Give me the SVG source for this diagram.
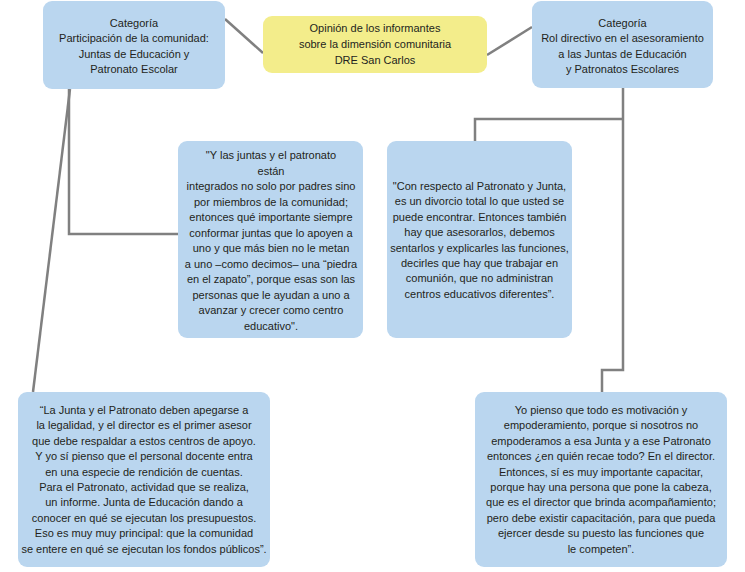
<svg xmlns="http://www.w3.org/2000/svg" width="745" height="572" viewBox="0 0 745 572">
<style>
.box{fill:#bad6ef}
.yel{fill:#f3ed8b}
.t{font-family:"Liberation Sans",Arial,sans-serif;font-size:11px;fill:#231f20;text-anchor:middle}
.c{fill:none;stroke:#808080;stroke-width:2.5}
</style>
<rect width="745" height="572" fill="#ffffff"/>
<g id="connectors">
<line class="c" x1="225" y1="19" x2="263" y2="53"/>
<line class="c" x1="487" y1="55" x2="532" y2="27"/>
<path class="c" d="M69,89 V234 H178"/>
<line class="c" x1="70" y1="89" x2="33" y2="392"/>
<path class="c" d="M623,88 V370 H602 V392"/>
<path class="c" d="M623,119 H475 V141"/>
</g>
<g id="cat1">
<rect class="box" x="43" y="1" width="182" height="88" rx="9"/>
<text class="t"><tspan x="134" y="27">Categoría</tspan><tspan x="134" y="42.3">Participación de la comunidad:</tspan><tspan x="134" y="57.6">Juntas de Educación y</tspan><tspan x="134" y="72.9">Patronato Escolar</tspan></text>
</g>
<g id="center">
<rect class="yel" x="263" y="16" width="224" height="57" rx="9"/>
<text class="t"><tspan x="375" y="32">Opinión de los informantes</tspan><tspan x="375" y="48">sobre la dimensión comunitaria</tspan><tspan x="375" y="64">DRE San Carlos</tspan></text>
</g>
<g id="cat2">
<rect class="box" x="532" y="1" width="181" height="87" rx="9"/>
<text class="t"><tspan x="622.5" y="27">Categoría</tspan><tspan x="622.5" y="42.3">Rol directivo en el asesoramiento</tspan><tspan x="622.5" y="57.6">a las Juntas de Educación</tspan><tspan x="622.5" y="72.9">y Patronatos Escolares</tspan></text>
</g>
<g id="quote1">
<rect class="box" x="178" y="141" width="185" height="197" rx="9"/>
<text class="t"><tspan x="271" y="159">"Y las juntas y el patronato</tspan><tspan x="271" y="174.5">están</tspan><tspan x="271" y="190">integrados no solo por padres sino</tspan><tspan x="271" y="205.5">por miembros de la comunidad;</tspan><tspan x="271" y="221">entonces qué importante siempre</tspan><tspan x="271" y="236.5">conformar juntas que lo apoyen a</tspan><tspan x="271" y="252">uno y que más bien no le metan</tspan><tspan x="271" y="267.5">a uno –como decimos– una “piedra</tspan><tspan x="271" y="283">en el zapato”, porque esas son las</tspan><tspan x="271" y="298.5">personas que le ayudan a uno a</tspan><tspan x="271" y="314">avanzar y crecer como centro</tspan><tspan x="271" y="329.5">educativo".</tspan></text>
</g>
<g id="quote2">
<rect class="box" x="387" y="141" width="185" height="197" rx="9"/>
<text class="t"><tspan x="479.5" y="190">"Con respecto al Patronato y Junta,</tspan><tspan x="479.5" y="205.4">es un divorcio total lo que usted se</tspan><tspan x="479.5" y="220.8">puede encontrar. Entonces también</tspan><tspan x="479.5" y="236.2">hay que asesorarlos, debemos</tspan><tspan x="479.5" y="251.6">sentarlos y explicarles las funciones,</tspan><tspan x="479.5" y="267">decirles que hay que trabajar en</tspan><tspan x="479.5" y="282.4">comunión, que no administran</tspan><tspan x="479.5" y="297.8">centros educativos diferentes”.</tspan></text>
</g>
<g id="quote3">
<rect class="box" x="18" y="392" width="252" height="175" rx="9"/>
<text class="t"><tspan x="144" y="414">“La Junta y el Patronato deben apegarse a</tspan><tspan x="144" y="429.4">la legalidad, y el director es el primer asesor</tspan><tspan x="144" y="444.8">que debe respaldar a estos centros de apoyo.</tspan><tspan x="144" y="460.2">Y yo sí pienso que el personal docente entra</tspan><tspan x="144" y="475.6">en una especie de rendición de cuentas.</tspan><tspan x="144" y="491">Para el Patronato, actividad que se realiza,</tspan><tspan x="144" y="506.4">un informe. Junta de Educación dando a</tspan><tspan x="144" y="521.8">conocer en qué se ejecutan los presupuestos.</tspan><tspan x="144" y="537.2">Eso es muy muy principal: que la comunidad</tspan><tspan x="144" y="552.6">se entere en qué se ejecutan los fondos públicos”.</tspan></text>
</g>
<g id="quote4">
<rect class="box" x="475" y="392" width="252" height="175" rx="9"/>
<text class="t"><tspan x="601" y="414">Yo pienso que todo es motivación y</tspan><tspan x="601" y="429.4">empoderamiento, porque si nosotros no</tspan><tspan x="601" y="444.8">empoderamos a esa Junta y a ese Patronato</tspan><tspan x="601" y="460.2">entonces ¿en quién recae todo? En el director.</tspan><tspan x="601" y="475.6">Entonces, sí es muy importante capacitar,</tspan><tspan x="601" y="491">porque hay una persona que pone la cabeza,</tspan><tspan x="601" y="506.4">que es el director que brinda acompañamiento;</tspan><tspan x="601" y="521.8">pero debe existir capacitación, para que pueda</tspan><tspan x="601" y="537.2">ejercer desde su puesto las funciones que</tspan><tspan x="601" y="552.6">le competen”.</tspan></text>
</g>
</svg>
